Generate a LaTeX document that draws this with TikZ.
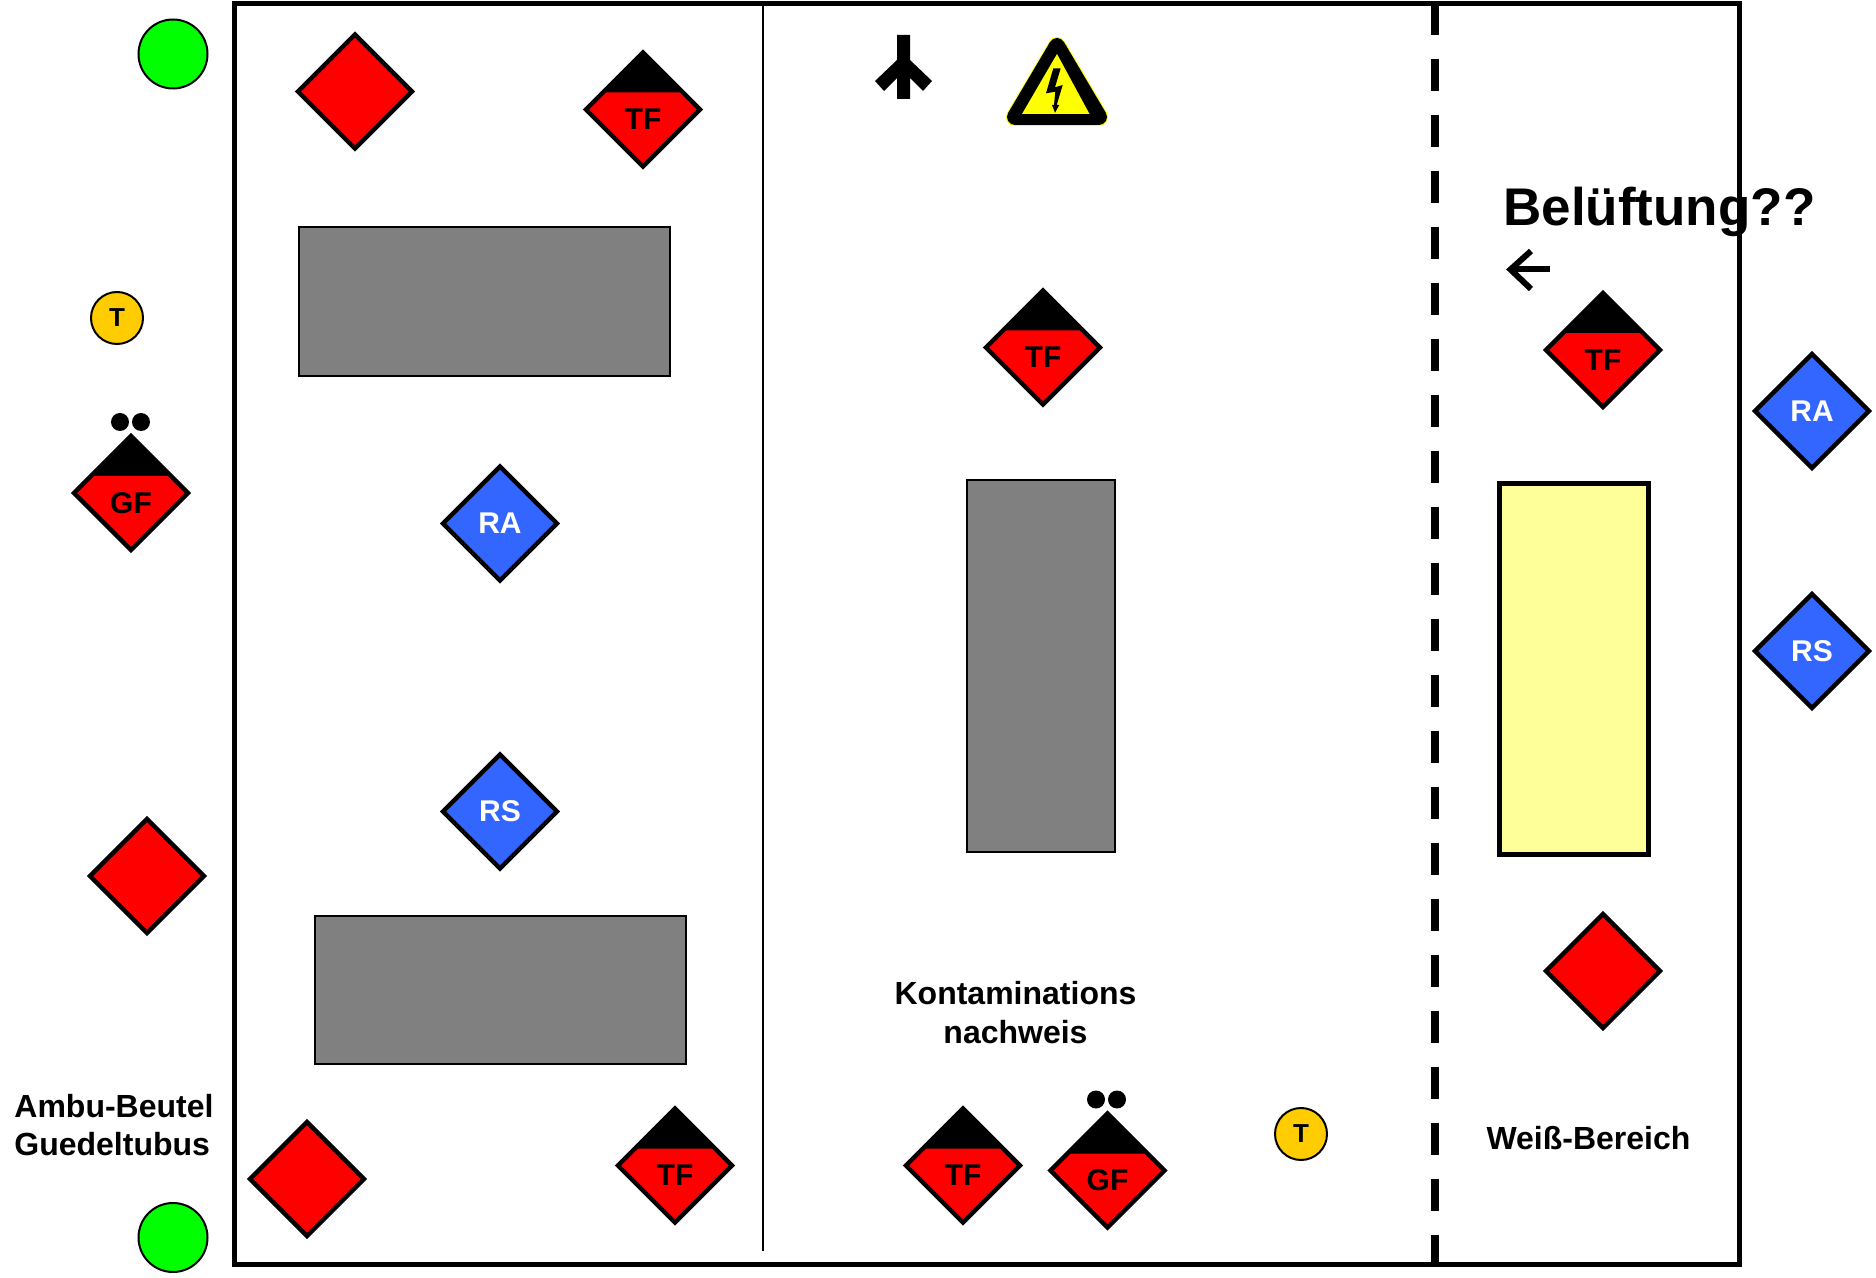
\documentclass[tikz,border=0pt]{standalone}
\usepackage{fontspec}
\setmainfont{Liberation Sans}
\definecolor{dred}{HTML}{FF0000}
\definecolor{dblue}{HTML}{3366FF}
\definecolor{dyel}{HTML}{FFFF99}
\definecolor{dgray}{HTML}{808080}
\definecolor{dgold}{HTML}{FFCC00}
\definecolor{dgreen}{HTML}{00FF00}
\definecolor{dwarn}{HTML}{FFFF00}
\tikzset{
  dia/.style={draw=black,line width=2.2pt,miter limit=10},
  dlabel/.style={font=\fontsize{15}{18}\selectfont\bfseries,inner sep=0pt,text=black},
  wlabel/.style={font=\fontsize{15}{18}\selectfont\bfseries,inner sep=0pt,text=white},
  caption/.style={font=\fontsize{16}{19}\selectfont\bfseries,inner sep=0pt,anchor=base},
  grayrect/.style={draw=black,line width=1pt,fill=dgray},
  tcirc/.style={circle,draw=black,line width=1pt,fill=dgold,minimum size=26pt,inner sep=0pt,font=\fontsize{13}{15}\selectfont\bfseries},
  gcirc/.style={circle,draw=black,line width=1pt,fill=dgreen,minimum size=34.5pt,inner sep=0pt},
}
\newcommand{\plaindia}[3]{\begin{scope}[shift={(#2,#3)}]
  \draw[dia,fill=dred] (0,-57)--(57,0)--(0,57)--(-57,0)--cycle;
  \coordinate (#1) at (0,0);
\end{scope}}
\newcommand{\bluedia}[4]{\begin{scope}[shift={(#2,#3)}]
  \draw[dia,fill=dblue] (0,-57)--(57,0)--(0,57)--(-57,0)--cycle;
  \node[wlabel] (#1) at (0,0) {#4};
\end{scope}}
\newcommand{\capdia}[4]{\begin{scope}[shift={(#2,#3)}]
  \draw[dia,fill=dred] (0,-57)--(57,0)--(0,57)--(-57,0)--cycle;
  \fill[black] (0,-57)--(40,-17)--(-40,-17)--cycle;
  \node[dlabel] (#1) at (0,10) {#4};
\end{scope}}
\newcommand{\twodots}[2]{\fill[black] (#1,#2) circle[radius=9] (#1+21,#2) circle[radius=9];}
\begin{document}
\begin{tikzpicture}[x=0.5pt,y=-0.5pt]
\useasboundingbox (0,0) rectangle (1876,1278);
% frame
\draw[black,line width=2.5pt] (234.5,3.5) rectangle (1739,1264);
\draw[black,line width=1pt] (763,3) -- (763,1251);
\draw[black,line width=4pt,dash pattern=on 16pt off 12pt] (1435,3) -- (1435,1264);
% green + T
\node[gcirc] (g1) at (173,54) {};
\node[gcirc] (g2) at (173,1237.5) {};
\node[tcirc] (t1) at (117,318) {T};
\node[tcirc] (t2) at (1301,1134) {T};
% rectangles
\draw[grayrect] (299,227) rectangle (670,376);
\draw[grayrect] (315,915.5) rectangle (686,1064);
\draw[grayrect] (967,480) rectangle (1115,851.5);
\draw[draw=black,line width=2.5pt,fill=dyel] (1499,484) rectangle (1648,854);
% diamonds
\plaindia{r1}{355}{91.5}
\plaindia{r2}{147}{876}
\plaindia{r3}{307}{1179}
\plaindia{r4}{1603}{971}
\capdia{tf1}{643}{109.5}{TF}
\capdia{tf2}{675}{1165.5}{TF}
\capdia{tf3}{963}{1165.5}{TF}
\capdia{tf4}{1043}{347.5}{TF}
\capdia{tf5}{1603}{350}{TF}
\capdia{gf1}{131}{493}{GF}
\capdia{gf2}{1107.5}{1170.5}{GF}
\twodots{120}{422}
\twodots{1096}{1099.5}
\bluedia{ra1}{500}{523.5}{RA}
\bluedia{rs1}{500}{811.5}{RS}
\bluedia{ra2}{1812}{411}{RA}
\bluedia{rs2}{1812}{651}{RS}
% fork symbol
\fill[black] (897,35)--(910,35)--(910,60)--(932,81)--(923,91)--(910,78)--(910,99)--(897,99)--(897,78)--(884,91)--(875,81)--(897,60)--cycle;
% warning sign
\draw[line join=round,line width=9pt,draw=dwarn,fill=dwarn] (1057,46)--(1099,117)--(1015,117)--cycle;
\draw[line join=round,line width=8pt,draw=black,fill=black] (1057,46)--(1099,117)--(1015,117)--cycle;
\fill[dwarn] (1057,54)--(1089.5,114)--(1022,114)--cycle;
\fill[black] (1053.3,68.3)--(1060.7,68.3)--(1055,87.3)--(1062.7,85)--(1056.7,105)--(1059.3,105)--(1055,112.7)--(1052,105)--(1054,105)--(1055.3,91.7)--(1046,93.3)--cycle;
% texts
\node[caption] (k1) at (1015.5,1004) {Kontaminations};
\node[caption] (k2) at (1015.5,1043) {nachweis};
\node[caption,anchor=base west] (a1) at (14,1117) {Ambu-Beutel};
\node[caption,anchor=base west] (a2) at (14,1155) {Guedeltubus};
\node[caption] (w1) at (1588.5,1149) {Weiß-Bereich};
\node[font=\fontsize{26.5}{30}\selectfont\bfseries,inner sep=0pt,anchor=base west] (b1) at (1503,226) {Belüftung??};
% arrow
\coordinate (atail) at (1550,269);
\coordinate (atip) at (1512,269);
\draw[black,line width=3pt] (atail) -- (atip);
\draw[black,line width=3pt,miter limit=10] (1531,251) -- (1510.5,269.5) -- (1531,289);
\end{tikzpicture}
\end{document}
